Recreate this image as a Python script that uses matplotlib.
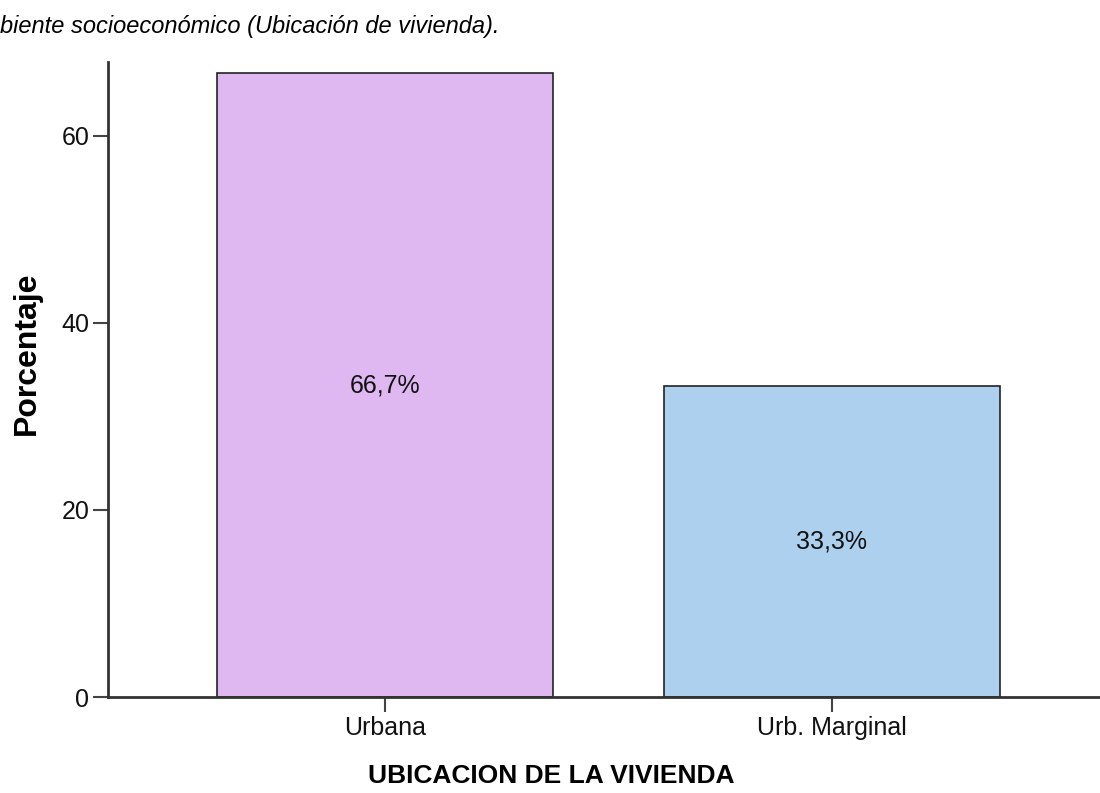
import matplotlib.pyplot as plt

plt.rcParams['font.family'] = ['Liberation Sans', 'DejaVu Sans']

categorias = ['Urbana', 'Urb. Marginal']
porcentajes = [66.7, 33.3]
etiquetas = ['66,7%', '33,3%']
colores = ['#DFB8F2', '#ADD0EE']

fig = plt.figure(figsize=(11, 7.93), dpi=100)
ax = fig.add_axes([0.0982, 0.121, 0.9018, 0.801])

pos = range(len(categorias))
bars = ax.bar(pos, porcentajes, width=0.752, color=colores, edgecolor='#222222', linewidth=1.2)
for b, t in zip(bars, etiquetas):
    ax.text(b.get_x() + b.get_width() / 2, b.get_height() / 2, t,
            ha='center', va='center', fontsize=18, color='#111111')

ax.set_xlim(-0.62, 1.6)
ax.set_ylim(0, 67.9)
ax.set_yticks([0, 20, 40, 60])
ax.set_xticks(list(pos))
ax.set_xticklabels(categorias)
ax.tick_params(axis='both', direction='out', length=11, width=1.5, color='#444444',
               labelsize=18, labelcolor='#111111', pad=2.5)

for s in ['top', 'right']:
    ax.spines[s].set_visible(False)
for s in ['left', 'bottom']:
    ax.spines[s].set_linewidth(2)
    ax.spines[s].set_color('#333333')

ax.set_ylabel('Porcentaje', fontsize=23, fontweight='bold')
ax.yaxis.label.set_va('center')
ax.yaxis.set_label_coords(-0.0816, 0.542)
ax.set_xlabel('UBICACION DE LA VIVIENDA', fontsize=19, fontweight='bold')
ax.xaxis.label.set_va('center')
ax.xaxis.set_label_coords(0.4466, -0.124)

fig.text(0.0, 0.966, 'biente socioeconómico (Ubicación de vivienda).',
         fontsize=17, style='italic', ha='left', va='center')

fig.savefig('out.png', dpi=100)
